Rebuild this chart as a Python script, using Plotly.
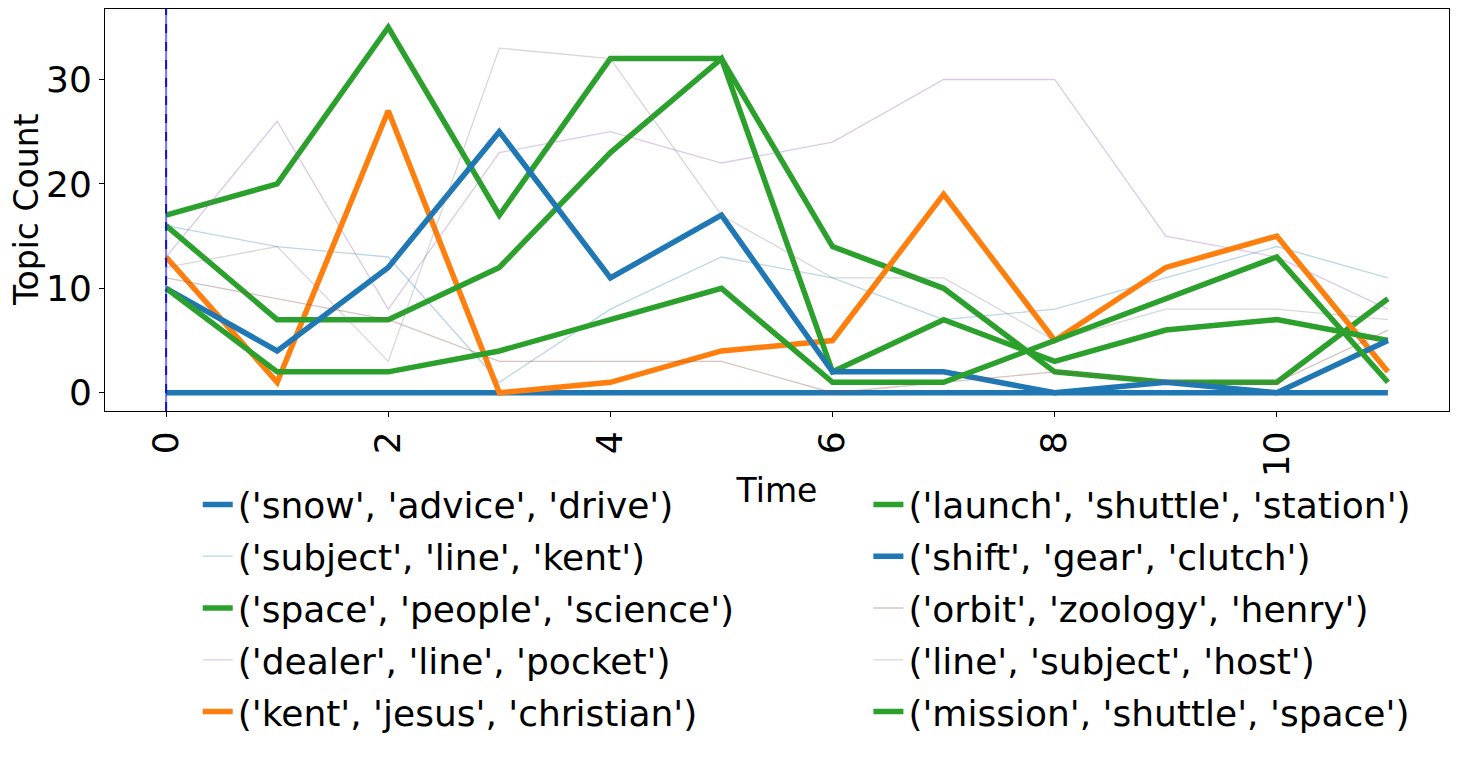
import plotly.graph_objects as go

time = [0, 1, 2, 3, 4, 5, 6, 7, 8, 9, 10, 11]

names = [
    "('snow', 'advice', 'drive')",
    "('subject', 'line', 'kent')",
    "('space', 'people', 'science')",
    "('dealer', 'line', 'pocket')",
    "('kent', 'jesus', 'christian')",
    "('launch', 'shuttle', 'station')",
    "('shift', 'gear', 'clutch')",
    "('orbit', 'zoology', 'henry')",
    "('line', 'subject', 'host')",
    "('mission', 'shuttle', 'space')",
]

snow_advice_drive = [0, 0, 0, 0, 0, 0, 0, 0, 0, 0, 0, 0]
subject_line_kent = [16, 14, 13, 1, 8, 13, 11, 7, 8, 11, 14, 11]
space_people_science = [17, 20, 35, 17, 32, 32, 14, 10, 2, 1, 1, 9]
dealer_line_pocket = [13, 26, 8, 23, 25, 22, 24, 30, 30, 15, 13, 8]
kent_jesus_christian = [13, 1, 27, 0, 1, 4, 5, 19, 5, 12, 15, 2]
launch_shuttle_station = [16, 7, 7, 12, 23, 32, 2, 7, 3, 6, 7, 5]
shift_gear_clutch = [10, 4, 12, 25, 11, 17, 2, 2, 0, 1, 0, 5]
orbit_zoology_henry = [11, 9, 7, 3, 3, 3, 0, 1, 2, 1, 1, 6]
line_subject_host = [12, 14, 3, 33, 32, 17, 11, 11, 5, 8, 8, 7]
mission_shuttle_space = [10, 2, 2, 4, 7, 10, 1, 1, 5, 9, 13, 1]

series = [snow_advice_drive, subject_line_kent, space_people_science, dealer_line_pocket,
          kent_jesus_christian, launch_shuttle_station, shift_gear_clutch,
          orbit_zoology_henry, line_subject_host, mission_shuttle_space]

colors = ["#1f77b4", "rgba(31,119,180,0.3)", "#2ca02c", "rgba(148,103,189,0.35)",
          "#ff7f0e", "#2ca02c", "#1f77b4", "rgba(140,86,75,0.35)",
          "rgba(127,127,127,0.3)", "#2ca02c"]
widths = [5.5, 1.3, 5.5, 1.3, 5.5, 5.5, 5.5, 1.3, 1.3, 5.5]

fig = go.Figure()
for i, (nm, ys, c, w) in enumerate(zip(names, series, colors, widths)):
    fig.add_trace(go.Scatter(
        x=time, y=ys, mode="lines", name=nm,
        line=dict(color=c, width=w),
        legend="legend" if i < 5 else "legend2",
        legendgroup=f"g{i}",
    ))

fig.add_vline(x=0, line=dict(color="rgba(0,0,255,0.55)", width=2))
fig.add_vline(x=0, line=dict(color="rgb(20,20,200)", width=2, dash="dash"))

font = "DejaVu Sans"
leg_common = dict(yanchor="top", xanchor="left", tracegroupgap=2,
                  font=dict(size=36, family=font), bgcolor="rgba(0,0,0,0)")
fig.update_layout(
    width=1458, height=757,
    margin=dict(l=97, r=17, t=1, b=354, autoexpand=False),
    paper_bgcolor="white", plot_bgcolor="white",
    font=dict(family=font, color="black"),
    showlegend=True,
    legend=dict(x=0.069, y=-0.158, **leg_common),
    legend2=dict(x=0.568, y=-0.158, **leg_common),
    annotations=[dict(
        text="Topic Count", textangle=-90, showarrow=False,
        xref="paper", yref="paper", x=0, y=0.5, xanchor="center", yanchor="middle",
        xshift=-79, font=dict(size=33, family=font, color="black"),
    )],
)
fig.update_xaxes(
    range=[-0.55, 11.55], tickvals=[0, 2, 4, 6, 8, 10], tickangle=-90,
    showline=True, mirror=True, linecolor="black", linewidth=1,
    ticks="outside", ticklen=5, tickcolor="black", showgrid=False, zeroline=False,
    tickfont=dict(size=36, family=font), automargin=False,
    title=dict(text="Time", font=dict(size=33, family=font), standoff=2),
)
fig.update_yaxes(
    range=[-1.75, 36.75], tickvals=[0, 10, 20, 30],
    showline=True, mirror=True, linecolor="black", linewidth=1,
    ticks="outside", ticklen=5, tickcolor="black", showgrid=False, zeroline=False,
    tickfont=dict(size=36, family=font), automargin=False,
)

fig.write_html("out.html")
